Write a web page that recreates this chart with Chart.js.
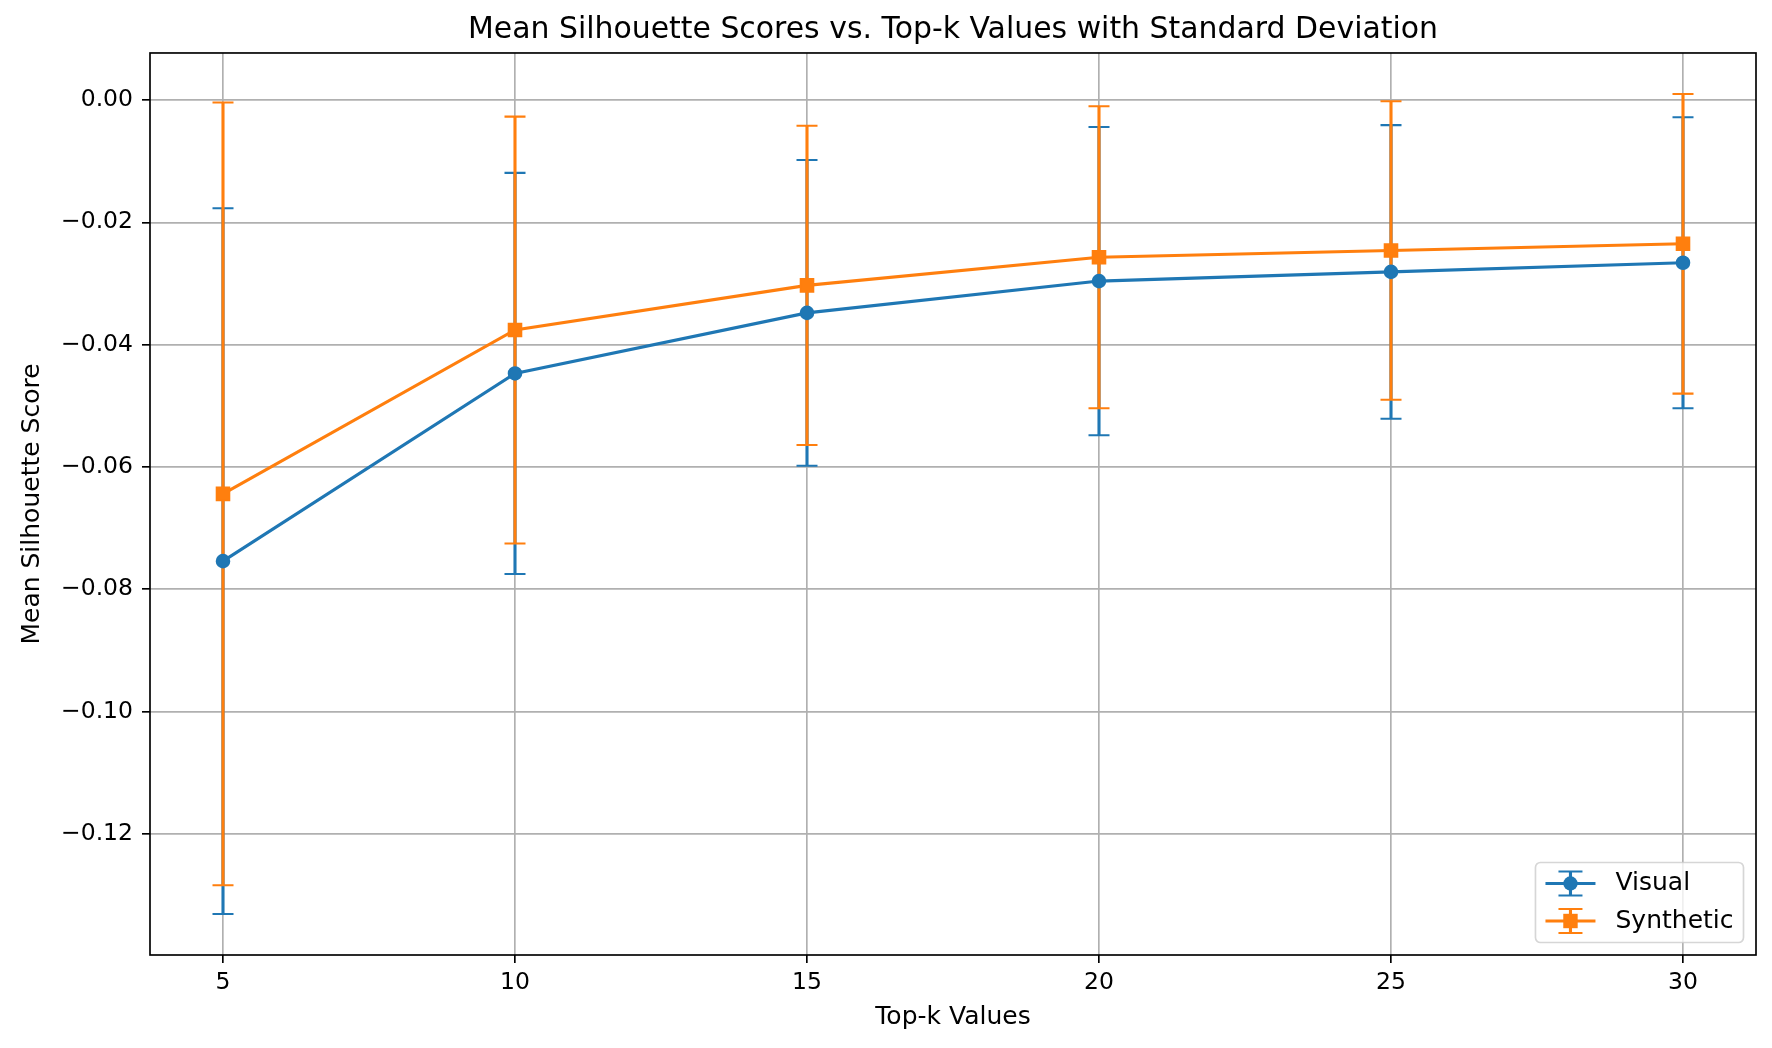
<!DOCTYPE html>
<html>
<head>
<meta charset="utf-8">
<script src="https://cdn.jsdelivr.net/npm/chart.js@4.4.0/dist/chart.umd.min.js"></script>
<style>
  html, body { margin: 0; padding: 0; background: #fff; }
</style>
</head>
<body>
<canvas id="silhouetteChart" width="1772" height="1048"></canvas>
<script>
// values
const topK = [5, 10, 15, 20, 25, 30];
const visualMean = [-0.0754, -0.0447, -0.0348, -0.0296, -0.0281, -0.0266];
const visualStd = [0.0577, 0.0328, 0.0250, 0.0252, 0.0240, 0.0238];
const syntheticMean = [-0.0644, -0.0376, -0.0303, -0.0257, -0.0246, -0.0235];
const syntheticStd = [0.0640, 0.0349, 0.0261, 0.0247, 0.0244, 0.0245];
const xTicks = [5, 10, 15, 20, 25, 30];
const yTicks = [-0.12, -0.10, -0.08, -0.06, -0.04, -0.02, 0.00];

const BLUE = '#1f77b4';
const ORANGE = '#ff7f0e';
const FONT = 'DejaVu Sans';

// error bars, axes frame and the legend box (drawn like matplotlib does)
const errorBarPlugin = {
    id: 'errorBars',
    afterLayout(chart) {
        // centre the title over the plot area, not the whole canvas
        if (chart.titleBlock) {
            chart.titleBlock.left = chart.chartArea.left;
            chart.titleBlock.right = chart.chartArea.right;
        }
    },
    beforeDatasetsDraw(chart) {
        const ctx = chart.ctx;
        const x = chart.scales.x, y = chart.scales.y;
        chart.data.datasets.forEach(ds => {
            ctx.save();
            ctx.strokeStyle = ds.borderColor;
            ds.data.forEach((p, i) => {
                const px = x.getPixelForValue(p.x);
                const top = y.getPixelForValue(p.y + ds.errors[i]);
                const bot = y.getPixelForValue(p.y - ds.errors[i]);
                ctx.lineWidth = 3.1;
                ctx.beginPath();
                ctx.moveTo(px, top);
                ctx.lineTo(px, bot);
                ctx.stroke();
                ctx.lineWidth = 2.1;
                ctx.beginPath();
                ctx.moveTo(px - 10.5, top); ctx.lineTo(px + 10.5, top);
                ctx.moveTo(px - 10.5, bot); ctx.lineTo(px + 10.5, bot);
                ctx.stroke();
            });
            ctx.restore();
        });
    },
    afterDatasetsDraw(chart) {
        const ctx = chart.ctx;
        const a = chart.chartArea;
        ctx.save();
        ctx.strokeStyle = '#000';
        ctx.lineWidth = 1.67;
        ctx.strokeRect(a.left, a.top, a.right - a.left, a.bottom - a.top);
        ctx.restore();
    },
    afterDraw(chart) {
        const ctx = chart.ctx;
        const a = chart.chartArea;
        ctx.save();
        ctx.font = '25px "' + FONT + '"';
        const textW = Math.max(...chart.data.datasets.map(ds => ctx.measureText(ds.label).width));
        const bw = 10 + 50 + 20 + textW + 10, bh = 80;
        const bx = a.right - 12.5 - bw, by = a.bottom - 12.5 - bh;
        ctx.globalAlpha = 0.8;
        ctx.fillStyle = '#fff';
        ctx.strokeStyle = '#cccccc';
        ctx.lineWidth = 1.67;
        ctx.beginPath();
        ctx.roundRect(bx, by, bw, bh, 5);
        ctx.fill();
        ctx.stroke();
        ctx.globalAlpha = 1;
        chart.data.datasets.forEach((ds, i) => {
            const cy = by + 21 + i * 37.5;
            const cx = bx + 35;
            ctx.strokeStyle = ds.borderColor;
            ctx.fillStyle = ds.borderColor;
            ctx.lineWidth = 3.1;
            ctx.beginPath();
            ctx.moveTo(bx + 10, cy); ctx.lineTo(bx + 60, cy);
            ctx.moveTo(cx, cy - 12); ctx.lineTo(cx, cy + 12);
            ctx.stroke();
            ctx.lineWidth = 2.1;
            ctx.beginPath();
            ctx.moveTo(cx - 12, cy - 12); ctx.lineTo(cx + 12, cy - 12);
            ctx.moveTo(cx - 12, cy + 12); ctx.lineTo(cx + 12, cy + 12);
            ctx.stroke();
            if (ds.pointStyle === 'rect') {
                ctx.fillRect(cx - 7.2, cy - 7.2, 14.4, 14.4);
            } else {
                ctx.beginPath();
                ctx.arc(cx, cy, 7.2, 0, Math.PI * 2);
                ctx.fill();
            }
            ctx.fillStyle = '#000';
            ctx.textBaseline = 'middle';
            ctx.fillText(ds.label, bx + 80, cy);
        });
        ctx.restore();
    }
};

const ctx = document.getElementById('silhouetteChart').getContext('2d');
const myChart = new Chart(ctx, {
    type: 'line',
    data: {
        datasets: [{
                label: 'Visual',
                data: topK.map((k, i) => ({x: k, y: visualMean[i]})),
                errors: visualStd,
                borderColor: BLUE,
                backgroundColor: BLUE,
                borderWidth: 3.1,
                pointStyle: 'circle',
                pointRadius: 6.3,
                pointBorderWidth: 2,
                order: 1
            },
            {
                label: 'Synthetic',
                data: topK.map((k, i) => ({x: k, y: syntheticMean[i]})),
                errors: syntheticStd,
                borderColor: ORANGE,
                backgroundColor: ORANGE,
                borderWidth: 3.1,
                pointStyle: 'rect',
                pointRadius: 8.9,
                pointBorderWidth: 2,
                order: 0
            }
        ]
    },
    options: {
        responsive: false,
        devicePixelRatio: 1,
        animation: false,
        layout: {
            padding: {left: 0, right: 16, top: 0, bottom: 0}
        },
        plugins: {
            legend: {display: false},
            tooltip: {enabled: false},
            title: {
                display: true,
                text: 'Mean Silhouette Scores vs. Top-k Values with Standard Deviation',
                color: '#000',
                font: {family: FONT, size: 29.9, weight: 'normal'},
                padding: {top: 12.5, bottom: 4.6}
            }
        },
        scales: {
            x: {
                type: 'linear',
                min: 3.75,
                max: 31.25,
                afterBuildTicks: s => { s.ticks = xTicks.map(v => ({value: v})); },
                afterFit: s => { s.height = 93; },
                border: {display: false},
                grid: {color: '#b0b0b0', lineWidth: 1.67, tickColor: '#000', tickLength: 8, tickWidth: 1.67},
                ticks: {
                    color: '#000',
                    font: {family: FONT, size: 23.5},
                    padding: 6,
                    maxRotation: 0,
                    autoSkip: false,
                    callback: v => String(v)
                },
                title: {
                    display: true,
                    text: 'Top-k Values',
                    color: '#000',
                    font: {family: FONT, size: 25},
                    padding: {top: 0, bottom: 16}
                }
            },
            y: {
                type: 'linear',
                min: -0.1398,
                max: 0.0077,
                afterBuildTicks: s => { s.ticks = yTicks.map(v => ({value: v})); },
                afterFit: s => { s.width = 150; },
                border: {display: false},
                grid: {color: '#b0b0b0', lineWidth: 1.67, tickColor: '#000', tickLength: 8, tickWidth: 1.67},
                ticks: {
                    color: '#000',
                    font: {family: FONT, size: 23.5},
                    padding: 9,
                    autoSkip: false,
                    callback: v => (v < -1e-9 ? '\u2212' : '') + Math.abs(v).toFixed(2)
                },
                title: {
                    display: true,
                    text: 'Mean Silhouette Score',
                    color: '#000',
                    font: {family: FONT, size: 25},
                    padding: {top: 17, bottom: 0}
                }
            }
        }
    },
    plugins: [errorBarPlugin]
});
</script>
</body>
</html>
